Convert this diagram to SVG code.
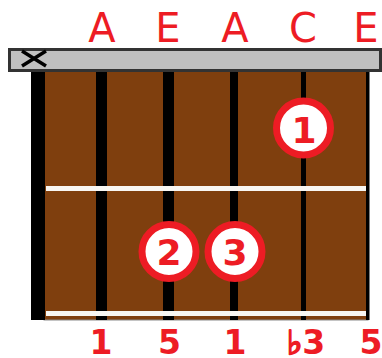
<svg xmlns="http://www.w3.org/2000/svg" width="382" height="358" viewBox="0 0 382 358">
<style>
.note{font-family:"DejaVu Sans",Verdana,sans-serif;font-size:40px;fill:#ed1c24;text-anchor:middle}
.intv{font-family:"DejaVu Sans",Verdana,sans-serif;font-size:33px;font-weight:bold;fill:#ed1c24;text-anchor:middle}
.flat{stroke:#ed1c24;stroke-width:2}
.str{fill:#000}
.fret{fill:#f8f6f2}
.dot circle{fill:#fff;stroke:#ed1c24;stroke-width:7}
.dot text{font-family:"DejaVu Sans",Verdana,sans-serif;font-size:36px;font-weight:bold;fill:#ed1c24;text-anchor:middle}
</style>
<rect width="382" height="358" fill="#fff"/>
<g id="notes">
<text class="note" x="102" y="42">A</text>
<text class="note" x="168" y="42">E</text>
<text class="note" x="235" y="42">A</text>
<text class="note" x="303" y="42">C</text>
<text class="note" x="366" y="42">E</text>
</g>
<g id="fretboard">
<rect x="44" y="70" width="324" height="250" fill="#7f3f0e" stroke="#8a8a8a" stroke-width="1"/>
<rect x="31" y="68" width="14" height="252" class="str"/>
<rect x="96" y="70" width="11" height="250" class="str"/>
<rect x="163" y="70" width="11" height="250" class="str"/>
<rect x="230" y="70" width="8" height="250" class="str"/>
<rect x="301" y="70" width="5" height="250" class="str"/>
<rect x="366" y="70" width="3.5" height="250" class="str"/>
<rect x="46" y="186" width="320" height="5" class="fret"/>
<rect x="46" y="311" width="320" height="5" class="fret"/>
</g>
<g id="nut">
<rect x="9.5" y="49.5" width="371" height="21" fill="#c0c0c0" stroke="#333" stroke-width="3"/>
<path d="M22 51 L46 66 M46 51 L22 66" stroke="#000" stroke-width="3.5" fill="none"/>
</g>
<g id="dot1" class="dot">
<circle cx="303.5" cy="128" r="27"/>
<text x="304" y="143">1</text>
</g>
<g id="dot2" class="dot">
<circle cx="169" cy="251.5" r="27"/>
<text x="169" y="265">2</text>
</g>
<g id="dot3" class="dot">
<circle cx="235" cy="251.5" r="27"/>
<text x="235" y="265">3</text>
</g>
<g id="intervals">
<text class="intv" x="101" y="354">1</text>
<text class="intv" x="169.5" y="354">5</text>
<text class="intv" x="235" y="354">1</text>
<text class="intv" x="306" y="354"><tspan class="flat">♭</tspan>3</text>
<text class="intv" x="371" y="354">5</text>
</g>
</svg>
